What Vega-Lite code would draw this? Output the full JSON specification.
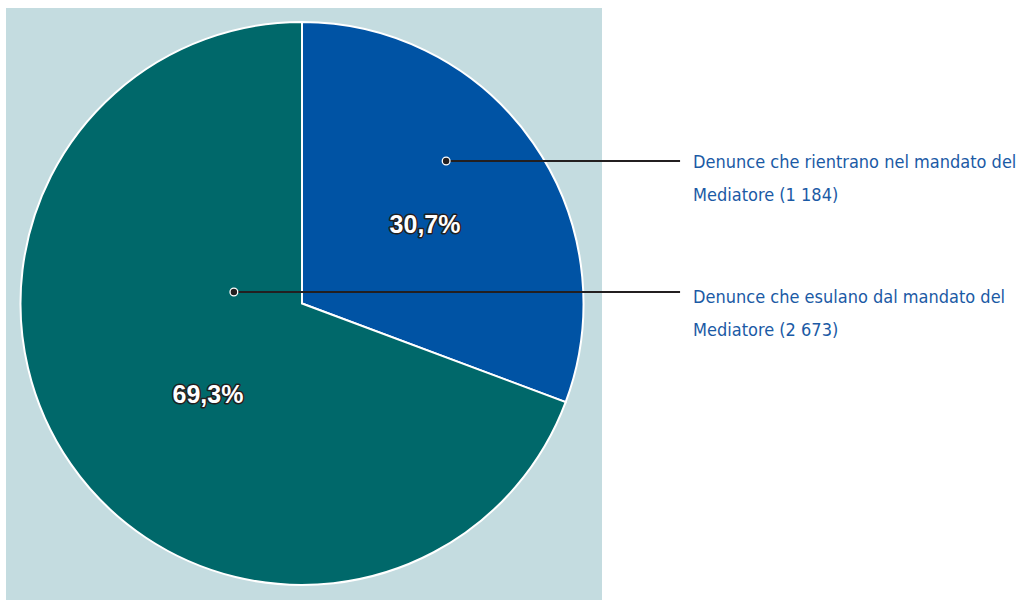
{
  "$schema": "https://vega.github.io/schema/vega-lite/v6.json",
  "width": 596,
  "height": 592,
  "autosize": {"type": "none"},
  "padding": {"left": 6, "top": 8, "right": 417, "bottom": 0},
  "background": "white",
  "config": {"view": {"fill": "#c4dce0", "stroke": null}},
  "datasets": {
    "slices": [
      {"categoria": "Denunce che rientrano nel mandato del Mediatore", "denunce": 1184, "ord": 1},
      {"categoria": "Denunce che esulano dal mandato del Mediatore", "denunce": 2673, "ord": 2}
    ],
    "pct": [
      {"testo": "30,7%", "px": 43.7, "py": 27.9},
      {"testo": "69,3%", "px": -33.4, "py": -32.5}
    ],
    "notes": [
      {"testo": "Denunce che rientrano nel mandato del\nMediatore (1 184)", "dx": 51.2, "dy": 50.6, "lx": 134.3, "tx": 138.9, "ty": 48.1},
      {"testo": "Denunce che esulano dal mandato del\nMediatore (2 673)", "dx": -24.2, "dy": 4.1, "lx": 134.3, "tx": 138.9, "ty": 0.2}
    ]
  },
  "layer": [
    {
      "data": {"name": "slices"},
      "mark": {"type": "arc", "outerRadius": 281.5, "stroke": "white", "strokeWidth": 2},
      "encoding": {
        "theta": {"field": "denunce", "type": "quantitative", "stack": true},
        "order": {"field": "ord", "type": "quantitative"},
        "color": {"field": "categoria", "type": "nominal", "legend": null,
          "scale": {"domain": ["Denunce che rientrano nel mandato del Mediatore", "Denunce che esulano dal mandato del Mediatore"], "range": ["#0053a4", "#00686a"]}},
        "x": {"datum": 0, "type": "quantitative", "axis": null, "scale": {"domain": [-105.15, 106.57], "nice": false, "zero": false}},
        "y": {"datum": 0, "type": "quantitative", "axis": null, "scale": {"domain": [-105.33, 104.97], "nice": false, "zero": false}}
      }
    },
    {
      "data": {"name": "notes"},
      "mark": {"type": "rule", "color": "#231f20", "strokeWidth": 2},
      "encoding": {
        "x": {"field": "dx", "type": "quantitative"},
        "x2": {"field": "lx"},
        "y": {"field": "dy", "type": "quantitative"}
      }
    },
    {
      "data": {"name": "notes"},
      "mark": {"type": "point", "shape": "circle", "filled": true, "color": "#231f20", "stroke": "white", "strokeWidth": 1.3, "size": 60, "opacity": 1},
      "encoding": {
        "x": {"field": "dx", "type": "quantitative"},
        "y": {"field": "dy", "type": "quantitative"}
      }
    },
    {
      "data": {"name": "notes"},
      "mark": {"type": "text", "align": "left", "baseline": "alphabetic", "lineBreak": "\n", "lineHeight": 33, "font": "DejaVu Sans Condensed, sans-serif", "fontSize": 18, "color": "#1b5aa5"},
      "encoding": {
        "x": {"field": "tx", "type": "quantitative"},
        "y": {"field": "ty", "type": "quantitative"},
        "text": {"field": "testo"}
      }
    },
    {
      "data": {"name": "pct"},
      "mark": {"type": "text", "align": "center", "baseline": "middle", "font": "Liberation Sans, Arial, sans-serif", "fontSize": 25, "fontWeight": "bold", "fill": "#231f20", "stroke": "#231f20", "strokeWidth": 3, "strokeJoin": "round"},
      "encoding": {
        "x": {"field": "px", "type": "quantitative"},
        "y": {"field": "py", "type": "quantitative"},
        "text": {"field": "testo"}
      }
    },
    {
      "data": {"name": "pct"},
      "mark": {"type": "text", "align": "center", "baseline": "middle", "font": "Liberation Sans, Arial, sans-serif", "fontSize": 25, "fontWeight": "bold", "fill": "white"},
      "encoding": {
        "x": {"field": "px", "type": "quantitative"},
        "y": {"field": "py", "type": "quantitative"},
        "text": {"field": "testo"}
      }
    }
  ]
}
